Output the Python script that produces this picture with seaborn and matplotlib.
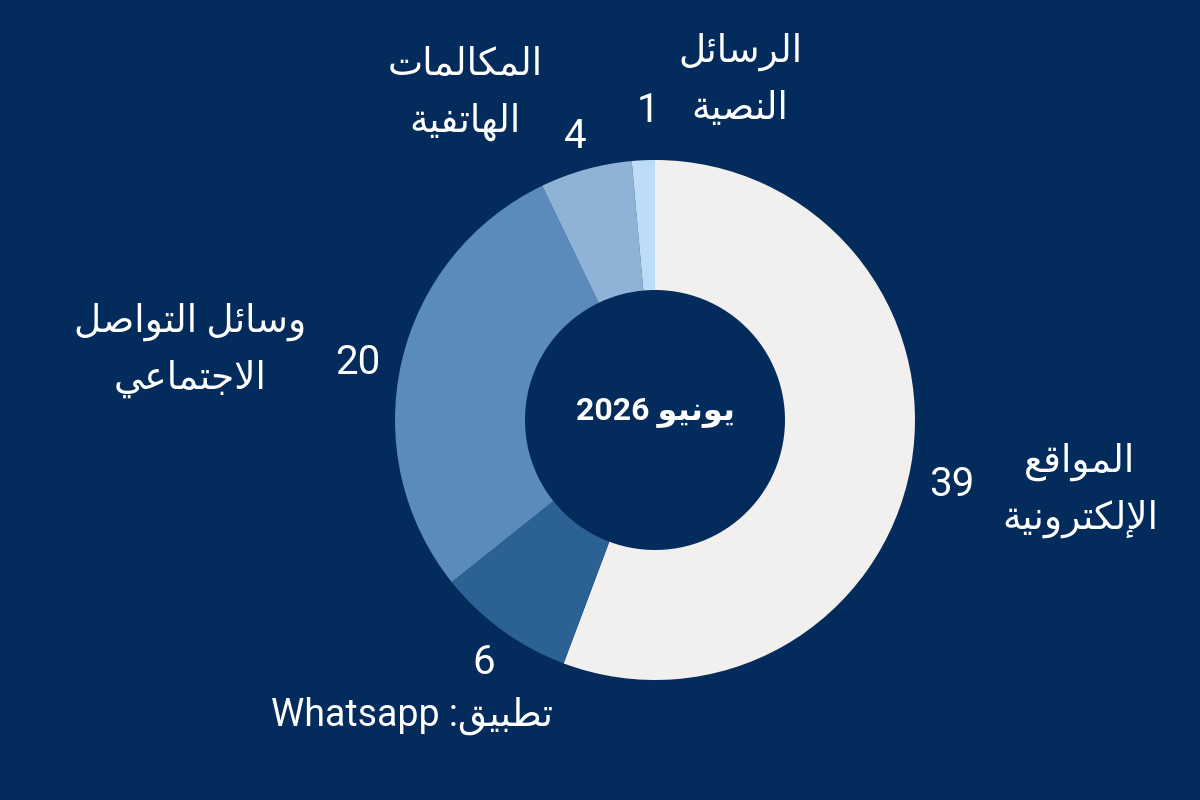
import matplotlib
matplotlib.use("Agg")
import matplotlib.pyplot as plt
import seaborn as sns

# ---------------- data ----------------
categories = ["المواقع الإلكترونية", "تطبيق: Whatsapp", "وسائل التواصل الاجتماعي",
              "المكالمات الهاتفية", "الرسائل النصية"]
label_lines = [["المواقع", "الإلكترونية"], ["تطبيق: Whatsapp"], ["وسائل التواصل", "الاجتماعي"],
               ["المكالمات", "الهاتفية"], ["الرسائل", "النصية"]]
values = [39, 6, 20, 4, 1]
center_title = "يونيو 2026"
colors = ["#F1F0EE", "#2C6194", "#5B8BBA", "#8FB3D7", "#BDDCF7"]
bg = "#032B5C"

# ---------------- minimal Arabic shaping (presentation forms) ----------------
_spec = [("\u0621", 0xFE80, 1), ("\u0622", 0xFE81, 2), ("\u0623", 0xFE83, 2), ("\u0624", 0xFE85, 2),
         ("\u0625", 0xFE87, 2), ("\u0626", 0xFE89, 4), ("\u0627", 0xFE8D, 2), ("\u0628", 0xFE8F, 4),
         ("\u0629", 0xFE93, 2), ("\u062A", 0xFE95, 4), ("\u062B", 0xFE99, 4), ("\u062C", 0xFE9D, 4),
         ("\u062D", 0xFEA1, 4), ("\u062E", 0xFEA5, 4), ("\u062F", 0xFEA9, 2), ("\u0630", 0xFEAB, 2),
         ("\u0631", 0xFEAD, 2), ("\u0632", 0xFEAF, 2), ("\u0633", 0xFEB1, 4), ("\u0634", 0xFEB5, 4),
         ("\u0635", 0xFEB9, 4), ("\u0636", 0xFEBD, 4), ("\u0637", 0xFEC1, 4), ("\u0638", 0xFEC5, 4),
         ("\u0639", 0xFEC9, 4), ("\u063A", 0xFECD, 4), ("\u0641", 0xFED1, 4), ("\u0642", 0xFED5, 4),
         ("\u0643", 0xFED9, 4), ("\u0644", 0xFEDD, 4), ("\u0645", 0xFEE1, 4), ("\u0646", 0xFEE5, 4),
         ("\u0647", 0xFEE9, 4), ("\u0648", 0xFEED, 2), ("\u0649", 0xFEEF, 2), ("\u064A", 0xFEF1, 4)]
FORMS = {c: tuple(range(b, b + k)) for c, b, k in _spec}
LAMALEF = {"\u0622": 0xFEF5, "\u0623": 0xFEF7, "\u0625": 0xFEF9, "\u0627": 0xFEFB}


def _dual(c):
    return (c in FORMS and len(FORMS[c]) == 4) or c == "\u0640"


def _is_ar(c):
    return c in FORMS or c == "\u0640"


def shape(word):
    out, i, n = [], 0, len(word)
    while i < n:
        c = word[i]
        if c not in FORMS:
            out.append(c)
            i += 1
            continue
        jp = i > 0 and _dual(word[i - 1])
        if c == "\u0644" and i + 1 < n and word[i + 1] in LAMALEF:
            out.append(chr(LAMALEF[word[i + 1]] + (1 if jp else 0)))
            i += 2
            continue
        jn = _dual(c) and i + 1 < n and _is_ar(word[i + 1])
        f = FORMS[c]
        if jp and jn:
            code = f[3]
        elif jp:
            code = f[1] if len(f) > 1 else f[0]
        elif jn:
            code = f[2]
        else:
            code = f[0]
        out.append(chr(code))
        i += 1
    return "".join(out)


def vis(line):
    words = line.split(" ")[::-1]
    res = []
    for w in words:
        if any(_is_ar(ch) for ch in w):
            res.append(shape(w)[::-1])
        else:
            res.append(w)
    return " ".join(res)


# ---------------- plot ----------------
sns.set_style("white")
plt.rcParams["font.family"] = ["DejaVu Sans"]

fig = plt.figure(figsize=(12, 8), dpi=100, facecolor=bg)
cx, cy, R = 655, 420, 260
ax = fig.add_axes([(cx - R) / 1200, (800 - cy - R) / 800, 2 * R / 1200, 2 * R / 800])
ax.set_facecolor(bg)
ax.pie(values, colors=colors, startangle=90, counterclock=False, radius=1.0,
       wedgeprops=dict(width=0.5, linewidth=0))
ax.set_xlim(-1, 1)
ax.set_ylim(-1, 1)
ax.set_aspect("equal")
ax.axis("off")


def px(x, y):
    return (x - cx) / R, (cy - y) / R


ax.text(*px(655, 412), vis(center_title), ha="center", va="center", color="white",
        fontsize=23, fontweight="bold", family=["Roboto", "DejaVu Sans"])

num_pos = [(952, 485), (484, 662), (358, 362), (575, 137), (648, 110)]
lab_pos = [(1080, 490), (412, 716), (190, 350), (465, 93), (740, 80)]
line_gap = 57

for v, lines, (nx, ny), (lx, ly) in zip(values, label_lines, num_pos, lab_pos):
    ax.text(*px(nx, ny), str(v), ha="center", va="center", color="white", fontsize=29,
            family=["Roboto", "DejaVu Sans"], clip_on=False)
    k = len(lines)
    for j, ln in enumerate(lines):
        yy = ly + (j - (k - 1) / 2) * line_gap
        ax.text(*px(lx, yy), vis(ln), ha="center", va="center", color="white", fontsize=27,
                family=["Roboto", "DejaVu Sans"], clip_on=False)

fig.savefig("out.png", dpi=100, facecolor=bg)
